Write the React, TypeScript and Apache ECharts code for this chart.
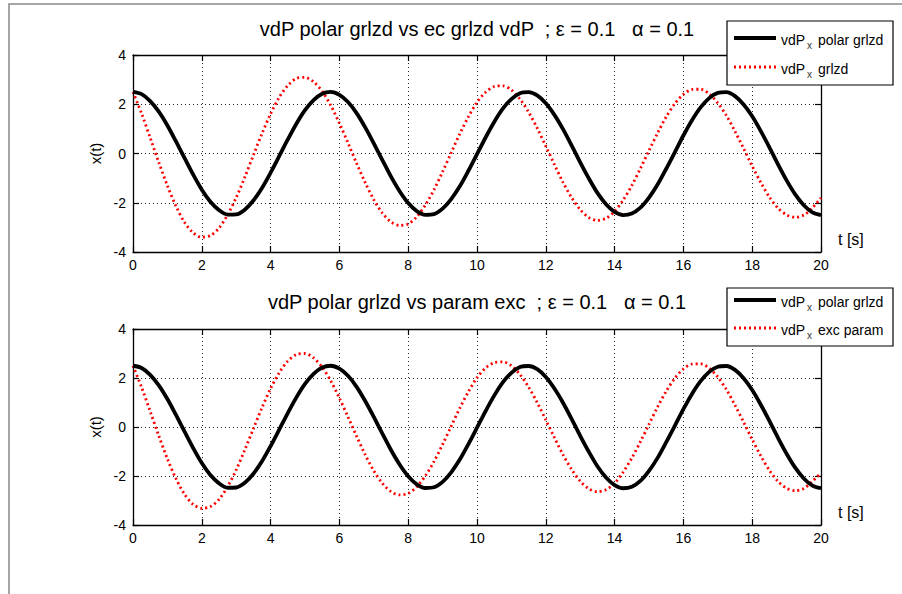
import React, { useEffect, useRef } from "react";
import * as echarts from "echarts";

const FONT = "'Liberation Sans', Arial, Helvetica, sans-serif";

// time samples [s]
const timeS = [
  0, 0.25, 0.5, 0.75, 1, 1.25, 1.5, 1.75, 2, 2.25, 2.5, 2.75, 3, 3.25, 3.5, 3.75,
  4, 4.25, 4.5, 4.75, 5, 5.25, 5.5, 5.75, 6, 6.25, 6.5, 6.75, 7, 7.25, 7.5, 7.75,
  8, 8.25, 8.5, 8.75, 9, 9.25, 9.5, 9.75, 10, 10.25, 10.5, 10.75, 11, 11.25, 11.5, 11.75,
  12, 12.25, 12.5, 12.75, 13, 13.25, 13.5, 13.75, 14, 14.25, 14.5, 14.75, 15, 15.25, 15.5, 15.75,
  16, 16.25, 16.5, 16.75, 17, 17.25, 17.5, 17.75, 18, 18.25, 18.5, 18.75, 19, 19.25, 19.5, 19.75,
  20,
];

// vdP_x polar grlzd (same curve in both panels)
const xPolarGrlzd = [
  2.5, 2.41, 2.13, 1.7, 1.14, 0.49, -0.19, -0.86, -1.47, -1.96, -2.3, -2.48, -2.47, -2.28, -1.91, -1.4,
  -0.78, -0.11, 0.57, 1.21, 1.76, 2.17, 2.43, 2.5, 2.38, 2.09, 1.64, 1.06, 0.41, -0.27, -0.94, -1.53,
  -2.01, -2.34, -2.49, -2.46, -2.24, -1.85, -1.33, -0.7, -0.03, 0.65, 1.28, 1.82, 2.21, 2.45, 2.49, 2.36,
  2.04, 1.57, 0.99, 0.33, -0.36, -1.01, -1.6, -2.06, -2.37, -2.5, -2.44, -2.2, -1.79, -1.26, -0.62, 0.05,
  0.73, 1.35, 1.87, 2.25, 2.46, 2.49, 2.33, 1.99, 1.51, 0.91, 0.25, -0.44, -1.09, -1.66, -2.1, -2.39,
  -2.5,
];

// vdP_x grlzd (top panel)
const xGrlzd = [
  2.5, 1.62, 0.64, -0.36, -1.31, -2.14, -2.8, -3.22, -3.4, -3.33, -3.03, -2.49, -1.79, -0.96, -0.07, 0.81,
  1.61, 2.28, 2.76, 3.05, 3.09, 2.91, 2.52, 1.95, 1.23, 0.43, -0.4, -1.18, -1.88, -2.42, -2.78, -2.92,
  -2.86, -2.57, -2.09, -1.47, -0.74, 0.03, 0.8, 1.49, 2.08, 2.49, 2.72, 2.75, 2.58, 2.21, 1.68, 1.03,
  0.3, -0.45, -1.17, -1.79, -2.28, -2.6, -2.72, -2.63, -2.35, -1.89, -1.3, -0.61, 0.12, 0.83, 1.49, 2.02,
  2.4, 2.6, 2.61, 2.42, 2.05, 1.54, 0.9, 0.2, -0.51, -1.18, -1.77, -2.22, -2.49, -2.59, -2.5, -2.21,
  -1.8,
];

// vdP_x exc param (bottom panel)
const xExcParam = [
  2.5, 1.62, 0.64, -0.36, -1.3, -2.11, -2.75, -3.16, -3.32, -3.25, -2.96, -2.43, -1.75, -0.93, -0.07, 0.79,
  1.57, 2.21, 2.69, 2.96, 3.0, 2.82, 2.44, 1.88, 1.18, 0.41, -0.38, -1.13, -1.79, -2.3, -2.64, -2.77,
  -2.71, -2.44, -1.99, -1.41, -0.71, 0.03, 0.77, 1.44, 2.01, 2.41, 2.63, 2.66, 2.5, 2.14, 1.63, 1.0,
  0.29, -0.43, -1.13, -1.73, -2.21, -2.52, -2.64, -2.56, -2.29, -1.84, -1.27, -0.6, 0.11, 0.82, 1.46, 1.99,
  2.37, 2.57, 2.58, 2.4, 2.04, 1.53, 0.89, 0.2, -0.51, -1.18, -1.77, -2.22, -2.5, -2.6, -2.51, -2.22,
  -1.87,
];

const titles = [
  "vdP polar grlzd vs ec grlzd vdP  ; ε = 0.1   α = 0.1",
  "vdP polar grlzd vs param exc  ; ε = 0.1   α = 0.1",
];
const legendRows = [
  ["{a|vdP}{s|x}{a| polar grlzd}", "{a|vdP}{s|x}{a| grlzd}"],
  ["{a|vdP}{s|x}{a| polar grlzd}", "{a|vdP}{s|x}{a| exc param}"],
];
const xTicks = { min: 0, max: 20, interval: 2 };
const yTicks = { min: -4, max: 4, interval: 2 };

const pairs = (vals: number[]) => timeS.map((t, i) => [t, vals[i]]);

const RED = "#ff0000";
const BLACK_W = 3.8;
const RED_W = 2.8;
const RED_DASH = [2, 3];

export default function App() {
  const ref = useRef<HTMLDivElement>(null);
  useEffect(() => {
    const chart = echarts.init(ref.current!, null, { renderer: "svg" });
    const grids = [
      { left: 133, top: 55, width: 688, height: 197 },
      { left: 133, top: 329, width: 688, height: 196 },
    ];
    const axisLine = { show: true, onZero: false, lineStyle: { color: "#000", width: 1.3 } };
    const axisTick = { show: true, inside: true, length: 6, lineStyle: { color: "#000", width: 1.2 } };
    const split = { show: true, lineStyle: { color: "#222", width: 1, type: [1, 3] as any } };
    const label = { fontFamily: FONT, fontSize: 14, color: "#000" };

    const xAxes: any[] = [];
    const yAxes: any[] = [];
    [0, 1].forEach((g) => {
      xAxes.push({
        type: "value", gridIndex: g, position: "bottom", ...xTicks,
        axisLine, axisTick, splitLine: split,
        axisLabel: { ...label, margin: 6 },
        name: "t [s]", nameLocation: "end", nameGap: 17,
        nameTextStyle: { fontFamily: FONT, fontSize: 16, color: "#000", align: "left", verticalAlign: "bottom", padding: [0, 0, 5, 0] },
      });
      xAxes.push({
        type: "value", gridIndex: g, position: "top", ...xTicks,
        axisLine, axisTick, splitLine: { show: false }, axisLabel: { show: false },
      });
      yAxes.push({
        type: "value", gridIndex: g, position: "left", ...yTicks,
        axisLine, axisTick, splitLine: split,
        axisLabel: { ...label, margin: 7 },
        name: "x(t)", nameLocation: "middle", nameGap: 27,
        nameTextStyle: { fontFamily: FONT, fontSize: 15, color: "#000" },
      });
      yAxes.push({
        type: "value", gridIndex: g, position: "right", ...yTicks,
        axisLine, axisTick, splitLine: { show: false }, axisLabel: { show: false },
      });
    });

    const black = (name: string, xi: number, yi: number) => ({
      type: "line", name, xAxisIndex: xi, yAxisIndex: yi, data: pairs(xPolarGrlzd),
      smooth: 0.3, symbol: "none", z: 3,
      lineStyle: { color: "#000", width: BLACK_W }, itemStyle: { color: "#000" },
    });
    const red = (name: string, vals: number[], xi: number, yi: number) => ({
      type: "line", name, xAxisIndex: xi, yAxisIndex: yi, data: pairs(vals),
      smooth: 0.3, symbol: "none", z: 2,
      lineStyle: { color: RED, width: RED_W, type: RED_DASH as any },
      itemStyle: { color: RED },
    });

    const rich = {
      a: { fontFamily: FONT, fontSize: 14, fill: "#000", color: "#000" },
      s: { fontFamily: FONT, fontSize: 10, fill: "#333", color: "#333", padding: [11, 2, 0, 2] },
    };
    const legendBox = (x: number, y: number, w: number, h: number, rowY: number[], texts: string[]) => ({
      type: "group",
      children: [
        { type: "rect", shape: { x, y, width: w, height: h }, style: { fill: "#fff", stroke: "#000", lineWidth: 1.2 }, z: 10 },
        { type: "line", shape: { x1: x + 7, y1: rowY[0], x2: x + 49, y2: rowY[0] }, style: { stroke: "#000", lineWidth: BLACK_W }, z: 11 },
        { type: "line", shape: { x1: x + 7, y1: rowY[1], x2: x + 49, y2: rowY[1] }, style: { stroke: RED, lineWidth: RED_W, lineDash: RED_DASH }, z: 11 },
        { type: "text", x: x + 54, y: rowY[0] + 2, style: { text: texts[0], verticalAlign: "middle", rich }, z: 11 },
        { type: "text", x: x + 54, y: rowY[1] + 2, style: { text: texts[1], verticalAlign: "middle", rich }, z: 11 },
      ],
    });

    chart.setOption({
      animation: false,
      backgroundColor: "#fff",
      title: titles.map((t, i) => ({
        text: t, left: 477, top: i === 0 ? 19 : 292, textAlign: "center", padding: 0,
        textStyle: { fontFamily: FONT, fontSize: 20, fontWeight: "normal", color: "#000" },
      })),
      grid: grids,
      xAxis: xAxes,
      yAxis: yAxes,
      graphic: [
        {
          type: "rect", shape: { x: 9, y: 4, width: 1000, height: 1000 }, silent: true,
          style: { fill: "none", stroke: "#888", lineWidth: 1.5 }, z: -1,
        },
        legendBox(727, 21, 166, 64, [38, 67], legendRows[0]),
        legendBox(727, 288, 166, 58, [300, 328], legendRows[1]),
      ],
      series: [
        black("vdP_x polar grlzd", 0, 0),
        red("vdP_x grlzd", xGrlzd, 0, 0),
        black("vdP_x polar grlzd ", 2, 2),
        red("vdP_x exc param", xExcParam, 2, 2),
      ],
    });
    return () => chart.dispose();
  }, []);
  return (
    <div
      ref={ref}
      style={{ position: "fixed", left: 0, top: 0, width: 902, height: 594, background: "#fff" }}
    />
  );
}
